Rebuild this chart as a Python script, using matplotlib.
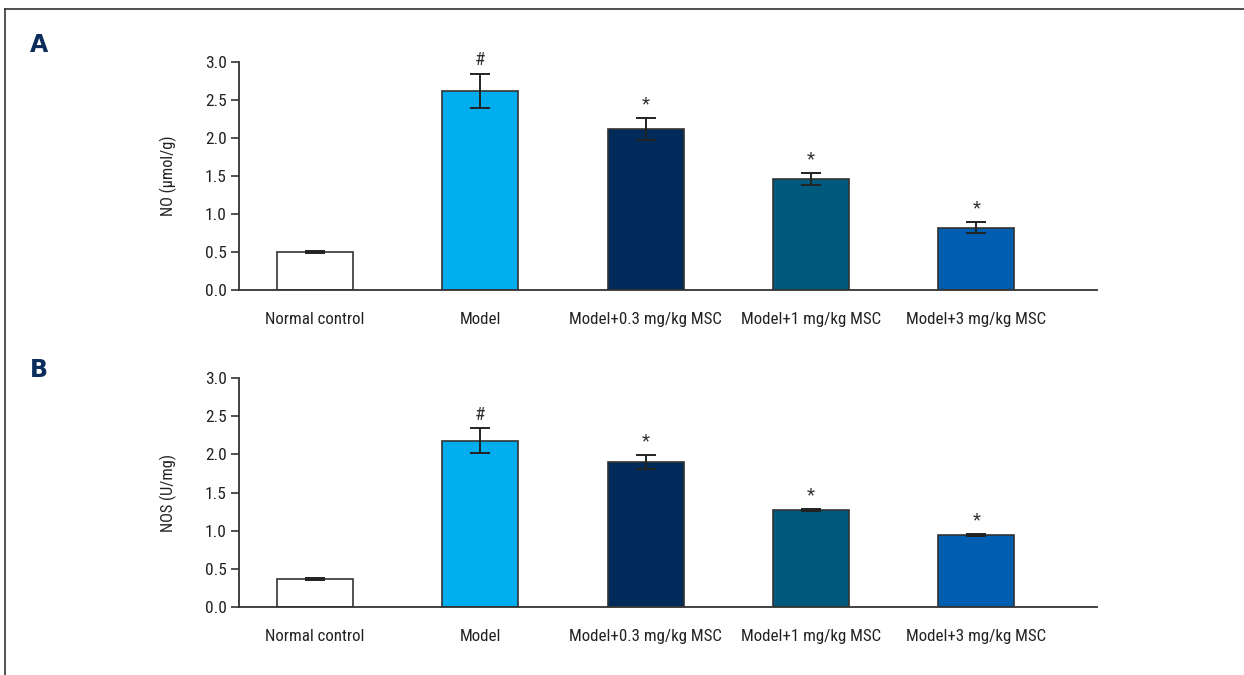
import matplotlib.pyplot as plt
from matplotlib.lines import Line2D
from matplotlib import font_manager

# narrow font if there is one, Roboto otherwise
names = {f.name for f in font_manager.fontManager.ttflist}
narrow = [n for n in ["Liberation Sans Narrow", "DejaVu Sans Condensed",
                      "Roboto Condensed", "Roboto"] if n in names]
plt.rcParams['font.family'] = narrow + ['DejaVu Sans']

groups = ["Normal control", "Model", "Model+0.3 mg/kg MSC",
          "Model+1 mg/kg MSC", "Model+3 mg/kg MSC"]
colors = ["#ffffff", "#00adef", "#002a5a", "#005a7e", "#005eb0"]

no_mean = [0.50, 2.62, 2.12, 1.46, 0.82]
no_err = [0.01, 0.22, 0.14, 0.08, 0.07]
no_marks = ["", "#", "*", "*", "*"]

nos_mean = [0.37, 2.18, 1.90, 1.27, 0.94]
nos_err = [0.01, 0.16, 0.09, 0.01, 0.01]
nos_marks = ["", "#", "*", "*", "*"]

fig = plt.figure(figsize=(12.44, 6.75), dpi=100)


def panel(rect, means, errs, marks, ylabel, letter, letter_y):
    ax = fig.add_axes(rect)
    x = range(len(groups))
    ax.bar(x, means, width=0.46, color=colors, edgecolor="#333333",
           linewidth=1.2, zorder=2)
    ax.errorbar(x, means, yerr=errs, fmt="none", ecolor="#222222",
                elinewidth=1.4, capsize=7.5, capthick=1.4, zorder=3)
    for xi, m, e, s in zip(x, means, errs, marks):
        if s:
            ax.annotate(s, (xi, m + e), xytext=(0, 3.5), textcoords="offset points",
                        ha="center", va="bottom", fontsize=13.5, color="#333333")
    ax.set_xlim(-0.46, 4.73)
    ax.set_ylim(0, 3.0)
    ax.set_yticks([0, 0.5, 1.0, 1.5, 2.0, 2.5, 3.0])
    ax.set_yticklabels(["0.0", "0.5", "1.0", "1.5", "2.0", "2.5", "3.0"])
    ax.set_xticks(list(x))
    ax.set_xticklabels(groups)
    ax.tick_params(axis="x", length=0, pad=16, labelsize=12.2, labelcolor="#222222")
    ax.tick_params(axis="y", length=6, width=1.2, pad=3, labelsize=12.5,
                   labelcolor="#222222", color="#333333")
    for side in ["top", "right"]:
        ax.spines[side].set_visible(False)
    for side in ["left", "bottom"]:
        ax.spines[side].set_linewidth(1.3)
        ax.spines[side].set_color("#333333")
    ax.set_ylabel(ylabel, fontsize=11.8, color="#222222", labelpad=20)
    fig.text(39 / 1244, letter_y, letter, fontsize=17, fontweight="bold",
             color="#0b2d5b", family="DejaVu Sans", ha="center", va="center")
    return ax


panel([239 / 1244, 1 - 290 / 675, 858 / 1244, 228 / 675],
      no_mean, no_err, no_marks, "NO (μmol/g)", "A", 1 - 45 / 675)
panel([239 / 1244, 1 - 607 / 675, 858 / 1244, 229 / 675],
      nos_mean, nos_err, nos_marks, "NOS (U/mg)", "B", 1 - 370 / 675)

# frame lines at top and left
fig.add_artist(Line2D([5 / 1244, 1], [1 - 9 / 675, 1 - 9 / 675],
                      transform=fig.transFigure, color="#333333", linewidth=1.2))
fig.add_artist(Line2D([5 / 1244, 5 / 1244], [0, 1 - 9 / 675],
                      transform=fig.transFigure, color="#333333", linewidth=1.2))

fig.savefig("out.png", dpi=100)
